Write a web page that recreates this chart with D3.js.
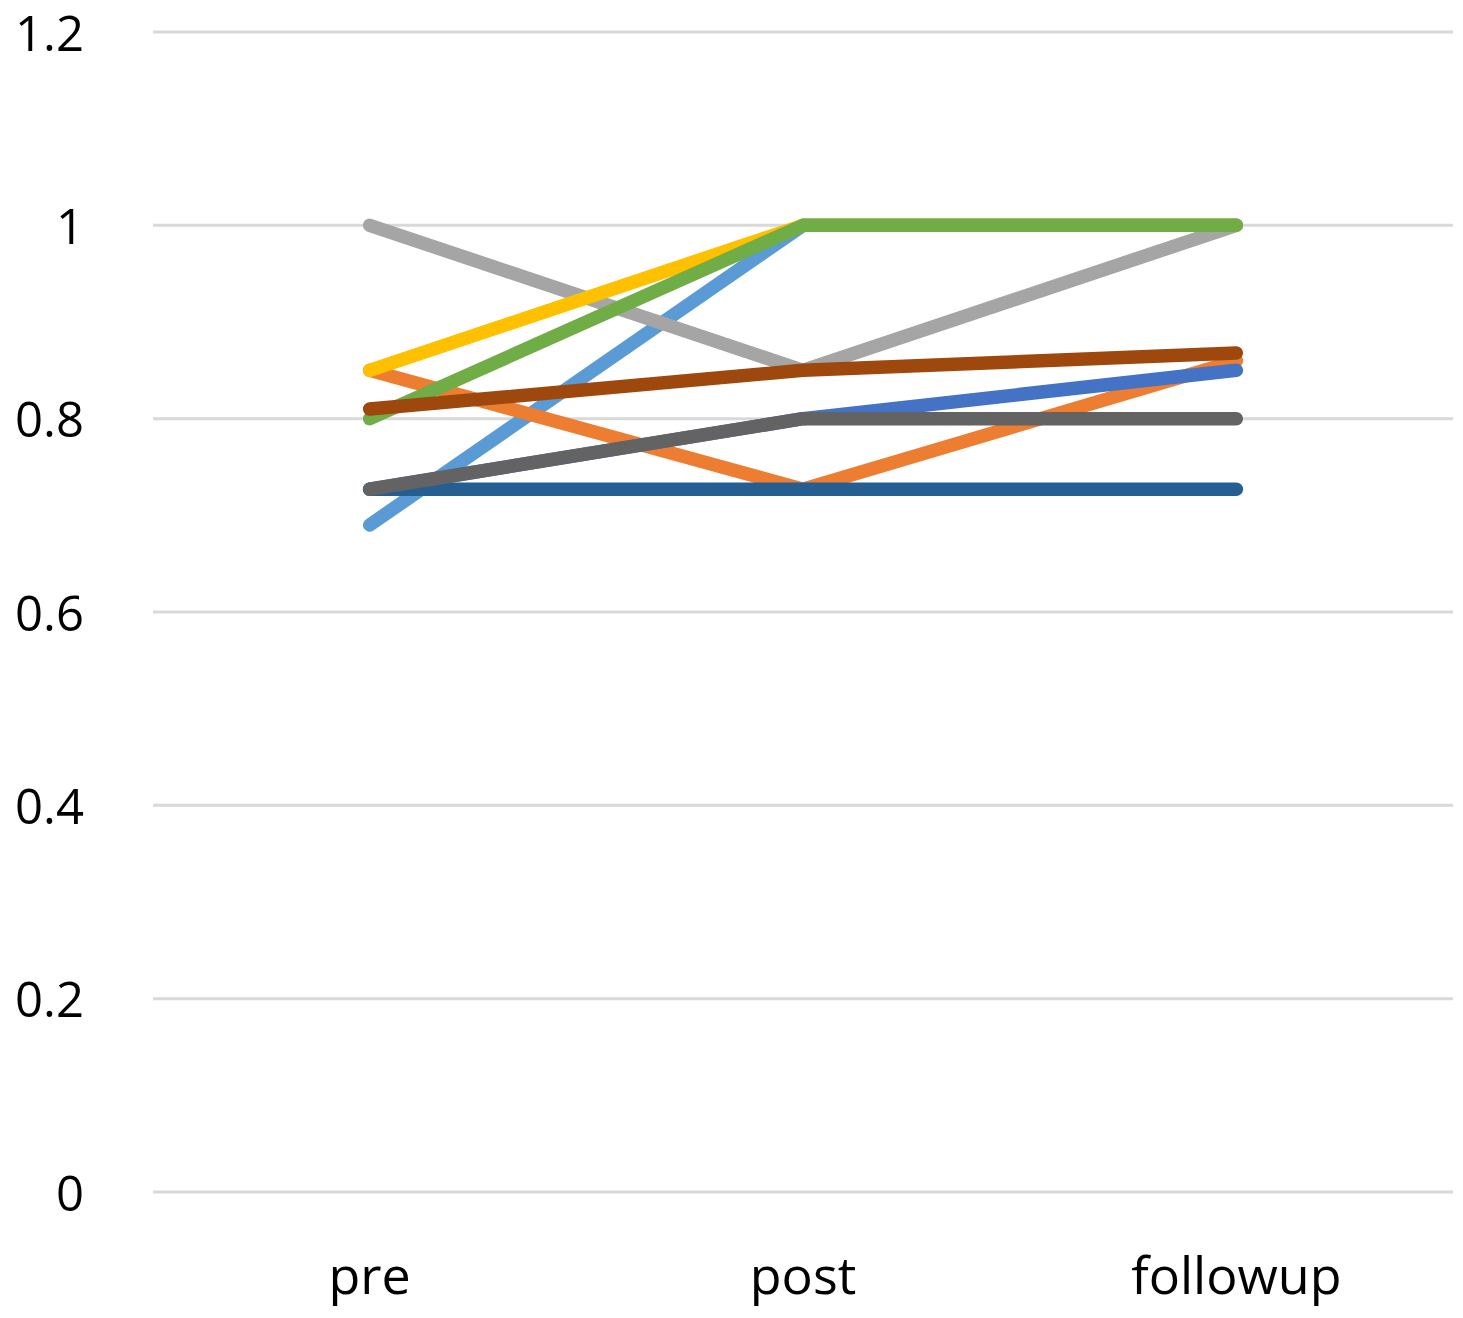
<!DOCTYPE html>
<html><head><meta charset="utf-8">
<script src="https://cdn.jsdelivr.net/npm/d3@7"></script>
<style>body{margin:0;background:#fff}svg{display:block}</style>
</head><body>
<script>
const categories = ["pre", "post", "followup"];
const yTicks = [0, 0.2, 0.4, 0.6, 0.8, 1, 1.2];
const seriesNames = ["s1","s2","s3","s4","s5","s6","s7","s8","s9"];
const seriesColors = ["#5B9BD5","#ED7D31","#A5A5A5","#FFC000","#4472C4","#70AD47","#255E91","#9E480E","#636363"];
const s1 = [0.69, 1.0, 1.0];
const s2 = [0.85, 0.727, 0.86];
const s3 = [1.0, 0.85, 1.0];
const s4 = [0.85, 1.0, 1.0];
const s5 = [0.727, 0.80, 0.85];
const s6 = [0.80, 1.0, 1.0];
const s7 = [0.727, 0.727, 0.727];
const s8 = [0.81, 0.85, 0.868];
const s9 = [0.727, 0.80, 0.80];
const seriesValues = [s1,s2,s3,s4,s5,s6,s7,s8,s9];

const W = 1463, H = 1318;
const m = {left:153, right:10, top:32, bottom:126};
const svg = d3.select("body").append("svg").attr("width", W).attr("height", H);
const x = d3.scaleBand().domain(categories).range([m.left, W - m.right]);
const y = d3.scaleLinear().domain([0, 1.2]).range([H - m.bottom, m.top]);

const font = "'Open Sans', sans-serif";
// gridlines
svg.append("g").selectAll("line").data(yTicks).join("line")
  .attr("x1", m.left).attr("x2", W - m.right)
  .attr("y1", d => y(d)).attr("y2", d => y(d))
  .attr("stroke", "#d9d9d9").attr("stroke-width", 3);

// y axis labels
const yAxis = d3.axisLeft(y).tickValues(yTicks).tickFormat(d => String(+d.toFixed(1))).tickSize(0).tickPadding(0);
const ya = svg.append("g").attr("transform", `translate(84,0)`).call(yAxis);
ya.select(".domain").remove();
ya.selectAll("text").attr("font-family", font).attr("font-size", 49).attr("fill", "#000").attr("dy", "0.37em");

// x axis labels
const xAxis = d3.axisBottom(x).tickSize(0).tickPadding(0);
const xa = svg.append("g").attr("transform", `translate(0,${H - m.bottom})`).call(xAxis);
xa.select(".domain").remove();
xa.selectAll("text").attr("font-family", font).attr("font-size", 52).attr("fill", "#000").attr("dy", null).attr("y", 102);

// lines
const line = d3.line().x((d,i) => x(categories[i]) + x.bandwidth()/2).y(d => y(d));
svg.append("g").selectAll("path").data(seriesValues).join("path")
  .attr("d", d => line(d))
  .attr("fill", "none")
  .attr("stroke", (d,i) => seriesColors[i])
  .attr("stroke-width", 13.5)
  .attr("stroke-linecap", "round")
  .attr("stroke-linejoin", "round");
</script>
</body></html>
